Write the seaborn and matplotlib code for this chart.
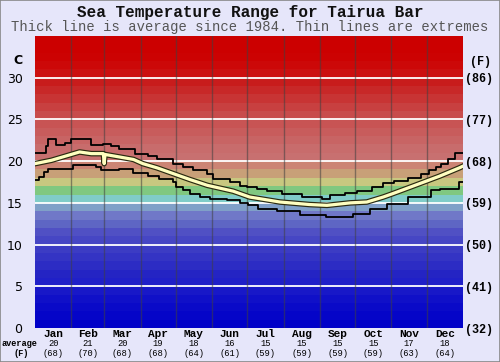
import matplotlib
matplotlib.use("Agg")
import matplotlib.pyplot as plt
import matplotlib.transforms as mtransforms
from matplotlib.patches import Rectangle
import seaborn as sns
import pandas as pd

# ---------------- data ----------------
months = ["Jan", "Feb", "Mar", "Apr", "May", "Jun", "Jul", "Aug", "Sep", "Oct", "Nov", "Dec"]
month_starts = [0, 31, 59, 90, 120, 151, 181, 212, 243, 273, 304, 334, 365]
month_avg_c = ["20", "21", "20", "19", "18", "16", "15", "15", "15", "15", "17", "18"]
month_avg_f = ["(68)", "(70)", "(68)", "(68)", "(64)", "(61)", "(59)", "(59)", "(59)", "(59)", "(63)", "(64)"]

c_ticks = [0, 5, 10, 15, 20, 25, 30]
f_labels = ["(32)", "(41)", "(50)", "(59)", "(68)", "(77)", "(86)"]

max_day = [0, 9, 11, 18, 26, 31, 48, 58, 65, 72, 85, 96, 104, 118, 126, 135, 147, 152, 166,
           175, 181, 189, 198, 211, 228, 245, 252, 264, 275, 287, 297, 306, 318, 329, 336,
           342, 346, 352, 358, 365]
max_temp = [21.0, 21.8, 22.6, 21.9, 22.2, 22.6, 21.9, 22.1, 21.8, 21.5, 20.9, 20.6, 20.3,
            19.7, 19.3, 18.9, 18.5, 17.9, 17.5, 17.0, 16.9, 16.7, 16.4, 16.1, 15.7, 15.5,
            15.9, 16.2, 16.4, 16.9, 17.4, 17.6, 18.0, 18.5, 18.9, 19.3, 19.7, 20.3, 21.0, 21.0]

min_day = [0, 3, 8, 11, 32, 52, 56, 72, 84, 96, 106, 118, 120, 126, 132, 141, 149, 164,
           175, 182, 190, 206, 226, 248, 271, 286, 300, 318, 338, 345, 362, 365]
min_temp = [17.7, 18.1, 18.7, 19.0, 19.5, 19.3, 18.9, 19.0, 18.6, 18.2, 17.9, 17.5, 16.9,
            16.5, 16.1, 15.7, 15.5, 15.3, 15.0, 14.7, 14.3, 14.0, 13.5, 13.3, 13.7, 14.3,
            14.9, 15.7, 16.5, 16.7, 17.5, 17.5]

avg_day = [0, 7, 14, 26, 38, 48, 58.3, 59, 59.7, 72, 84, 92, 104, 118, 132, 147, 169, 183,
           209, 234, 249, 269, 283, 297, 305, 326, 345, 362, 365]
avg_temp = [19.7, 19.9, 20.1, 20.6, 21.1, 20.9, 20.9, 19.7, 20.8, 20.5, 20.2, 19.7, 19.2,
            18.5, 17.8, 17.1, 16.4, 15.7, 15.1, 14.8, 14.7, 15.0, 15.1, 15.7, 16.1, 17.2,
            18.2, 19.2, 19.4]

band_colors = [
    "#0000C8", "#0505C8", "#0A0AC8", "#1010C8", "#1818C8",
    "#2020C8", "#2424C4", "#2C2CC4", "#3434C4", "#3C3CC4",
    "#4646C4", "#5050C4", "#5E66C4", "#7078C8", "#80A0C8",
    "#80CCC8", "#80C880", "#C8C880", "#C8A078", "#CC8474",
    "#C87070", "#C86C6C", "#C86464", "#C85C5C", "#C85454",
    "#C84C4C", "#C84040", "#C83434", "#C82828", "#C81C1C",
    "#CC1010", "#CC0808", "#CC0202", "#CC0000", "#CC0000",
]

# ---------------- figure ----------------
BG = "#E6E6FA"
MONO = "Liberation Mono"
fig = plt.figure(figsize=(5.0, 3.62), dpi=100, facecolor=BG)
ax = fig.add_axes([0.07, 0.0939, 0.856, 0.8067])
ax.set_facecolor(BG)

for i, col in enumerate(band_colors):
    ax.axhspan(i, i + 1, color=col, lw=0, zorder=0)

for t in c_ticks[1:]:
    ax.axhline(t, color="white", lw=1.3, zorder=1)
for d in month_starts[1:-1]:
    ax.axvline(d, color="#404040", alpha=0.55, lw=1.0, zorder=1)

df_max = pd.DataFrame({"day": max_day, "temp": max_temp})
df_min = pd.DataFrame({"day": min_day, "temp": min_temp})
df_avg = pd.DataFrame({"day": avg_day, "temp": avg_temp})

sns.lineplot(data=df_max, x="day", y="temp", ax=ax, color="black", lw=1.3,
             drawstyle="steps-post", estimator=None, zorder=3)
sns.lineplot(data=df_min, x="day", y="temp", ax=ax, color="black", lw=1.3,
             drawstyle="steps-post", estimator=None, zorder=3)
sns.lineplot(data=df_avg, x="day", y="temp", ax=ax, color="#2a2a10", lw=4.0,
             estimator=None, zorder=4)
sns.lineplot(data=df_avg, x="day", y="temp", ax=ax, color="#FFFFC0", lw=2.3,
             estimator=None, zorder=5)

ax.set_xlim(0, 365)
ax.set_ylim(0, 35)
ax.set_xlabel("")
ax.set_ylabel("")
for s in ax.spines.values():
    s.set_visible(False)

mids = [(a + b) / 2 for a, b in zip(month_starts[:-1], month_starts[1:])]
ax.set_xticks(mids)
ax.set_xticklabels(months, fontfamily=MONO, fontweight="bold", fontsize=8)
ax.tick_params(axis="x", length=0, pad=0.8)

ax.set_yticks(c_ticks)
ax.set_yticklabels([str(t) for t in c_ticks], fontfamily="DejaVu Sans", fontsize=9)
ax.tick_params(axis="y", length=0, pad=9)

ax2 = ax.twinx()
ax2.set_ylim(0, 35)
ax2.set_yticks(c_ticks)
ax2.set_yticklabels(f_labels, fontfamily=MONO, fontweight="bold", fontsize=8.5)
ax2.tick_params(axis="y", length=0, pad=1.5)
for s in ax2.spines.values():
    s.set_visible(False)

fig.text(22 / 500, 1 - 60.7 / 362, "C", ha="right", va="center",
         fontfamily="DejaVu Sans", fontweight="bold", fontsize=9)
fig.text(481 / 500, 1 - 62.5 / 362, "(F)", ha="center", va="center",
         fontfamily=MONO, fontweight="bold", fontsize=8.5)

trans = mtransforms.blended_transform_factory(ax.transData, fig.transFigure)
for m, c, f in zip(mids, month_avg_c, month_avg_f):
    fig.text(m, 1 - 344 / 362, c, transform=trans, ha="center", va="center",
             fontfamily=MONO, fontsize=6.3)
    fig.text(m, 1 - 353 / 362, f, transform=trans, ha="center", va="center",
             fontfamily=MONO, fontsize=6.3)
fig.text(2 / 500, 1 - 344 / 362, "average", ha="left", va="center",
         fontfamily=MONO, fontweight="bold", fontsize=6.2)
fig.text(21 / 500, 1 - 353 / 362, "(F)", ha="center", va="center",
         fontfamily=MONO, fontweight="bold", fontsize=6.2)

fig.text(0.5, 1 - 12.5 / 362, "Sea Temperature Range for Tairua Bar", ha="center",
         va="center", fontfamily=MONO, fontweight="bold", fontsize=11.5, color="#111111")
fig.text(0.5, 1 - 27.5 / 362, "Thick line is average since 1984. Thin lines are extremes",
         ha="center", va="center", fontfamily=MONO, fontsize=10, color="#555555")

fig.patches.append(Rectangle((0, 0), 1, 1, transform=fig.transFigure, fill=False,
                             edgecolor="#888888", lw=1.2))

fig.savefig("out.png", dpi=100, facecolor=BG)
